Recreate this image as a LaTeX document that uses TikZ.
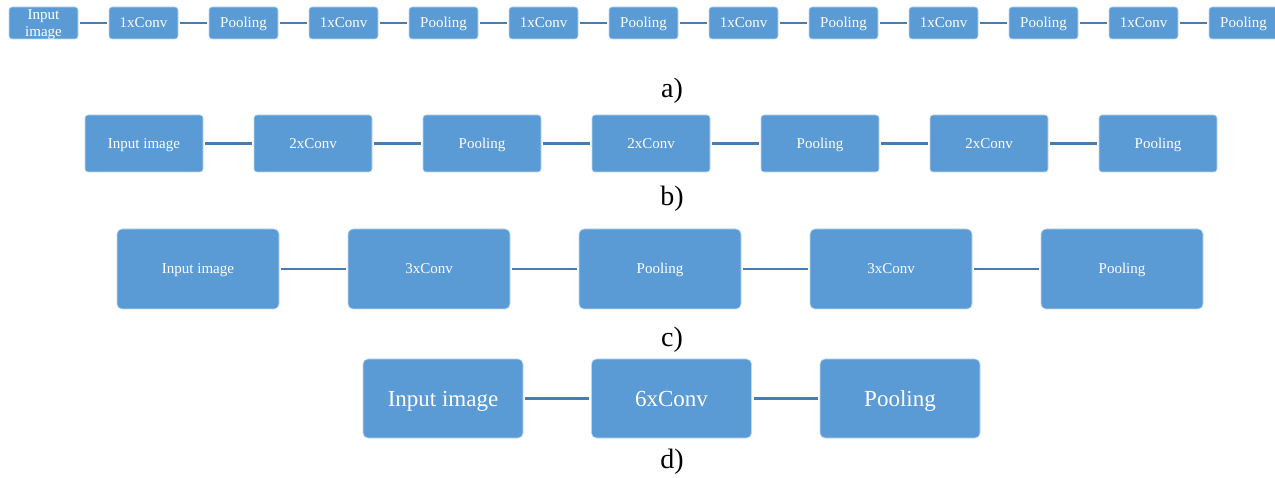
\documentclass[tikz,border=0pt]{standalone}
\usepackage{fontspec}
\setmainfont{Liberation Serif}
\usetikzlibrary{calc}

\definecolor{blockblue}{RGB}{91,155,213}
\definecolor{edgeblue}{RGB}{189,215,238}
\definecolor{linkblue}{RGB}{70,124,176}

\tikzset{
    block/.style={draw=edgeblue, line width=0.6pt, fill=blockblue, text=white,
        rounded corners=3pt, align=center, inner sep=0pt,
        font=\fontsize{15}{15}\selectfont},
    oneline/.style={text height=12pt, text depth=2pt},
    bigline/.style={text height=18.4pt, text depth=3.2pt},
    link/.style={draw=linkblue, line width=2.6pt, shorten <=2pt, shorten >=2pt},
    caption/.style={font=\fontsize{28}{28}\selectfont}
}

\begin{document}
\begin{tikzpicture}[x=1pt, y=-1pt]

    % --- Canvas ---
    \useasboundingbox (0,0) rectangle (1275,478);

    % --- a) one conv per pooling ---
    \node[block, minimum width=69pt, minimum height=32pt, font=\fontsize{15}{17}\selectfont]
        (a0) at (43.5,23) {};
    \node[text=white, align=center, inner sep=0pt, font=\fontsize{15}{17}\selectfont]
        (a0text) at ($(a0)+(0,2)$) {Input\\image};
    \foreach \k/\t in {1/1xConv,2/Pooling,3/1xConv,4/Pooling,5/1xConv,6/Pooling,
                       7/1xConv,8/Pooling,9/1xConv,10/Pooling,11/1xConv,12/Pooling}
        \node[block, oneline, minimum width=69pt, minimum height=32pt]
            (a\k) at ({43.5+100*\k},23) {\t};
    \foreach \i [count=\j from 1] in {0,...,11}
        \draw[link] (a\i) -- (a\j);
    \node[caption] (capa) at (672,91) {a)};

    % --- b) two convs per pooling ---
    \node[block, oneline, minimum width=118pt, minimum height=57pt] (b0) at (144,143.5) {Input image};
    \foreach \k/\t in {1/2xConv,2/Pooling,3/2xConv,4/Pooling,5/2xConv,6/Pooling}
        \node[block, oneline, minimum width=118pt, minimum height=57pt]
            (b\k) at ({144+169*\k},143.5) {\t};
    \foreach \i [count=\j from 1] in {0,...,5}
        \draw[link] (b\i) -- (b\j);
    \node[caption] (capb) at (672,199) {b)};

    % --- c) three convs per pooling ---
    \node[block, oneline, minimum width=162pt, minimum height=80pt, rounded corners=5pt]
        (c0) at (198,269) {Input image};
    \foreach \k/\t in {1/3xConv,2/Pooling,3/3xConv,4/Pooling}
        \node[block, oneline, minimum width=162pt, minimum height=80pt, rounded corners=5pt]
            (c\k) at ({198+231*\k},269) {\t};
    \foreach \i [count=\j from 1] in {0,...,3}
        \draw[link] (c\i) -- (c\j);
    \node[caption] (capc) at (672,340) {c)};

    % --- d) six convs, one pooling ---
    \foreach \k/\t in {0/Input image,1/6xConv,2/Pooling}
        \node[block, bigline, minimum width=160pt, minimum height=79pt, rounded corners=5pt,
              font=\fontsize{23}{23}\selectfont]
            (d\k) at ({443+228.5*\k},398.5) {\t};
    \foreach \i [count=\j from 1] in {0,1}
        \draw[link] (d\i) -- (d\j);
    \node[caption] (capd) at (672,462) {d)};

\end{tikzpicture}
\end{document}
